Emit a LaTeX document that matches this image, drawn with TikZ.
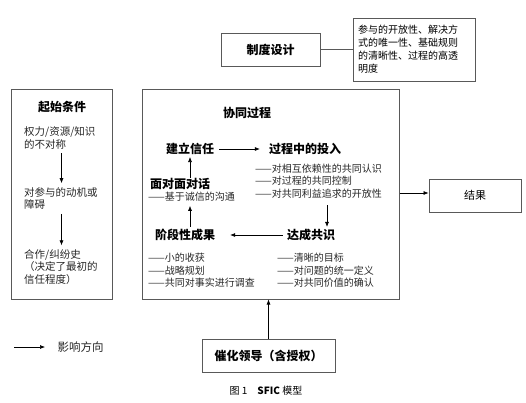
\documentclass[tikz,border=0pt]{standalone}
\usepackage{fontspec}
\setmainfont{Noto Sans CJK SC}
\usetikzlibrary{positioning,arrows.meta}

\tikzset{
  box/.style={draw=black!65, line width=1pt, inner sep=0pt},
  head/.style={font=\fontsize{12}{14}\selectfont\bfseries, inner sep=2pt},
  txt/.style={font=\fontsize{10.5}{12.5}\selectfont, align=left, anchor=west, inner sep=0pt, text=black!85},
  item/.style={font=\fontsize{10}{12.5}\selectfont, align=left, anchor=west, inner sep=0pt, text=black!85},
  arr/.style={-{Latex[length=5pt,width=4pt]}, line width=0.6pt}
}

\begin{document}
\begin{tikzpicture}[x=1pt,y=-1pt]
    \useasboundingbox (0,0) rectangle (526,402);

    % Outer boxes
    \node[box, minimum width=101pt, minimum height=210pt] (start) at (61.5,194) {};
    \node[box, minimum width=257pt, minimum height=210pt] (main) at (270.5,194) {};
    \node[box, minimum width=99pt, minimum height=33pt, font=\fontsize{12}{14}\selectfont\bfseries] (inst) at (270.5,49.5) {制度设计};
    \node[box, minimum width=122pt, minimum height=63pt, text width=112pt, align=left,
          font=\fontsize{10}{13}\selectfont] (instnote) at (414,49.5)
          {参与的开放性、解决方\\式的唯一性、基础规则\\的清晰性、过程的高透\\明度};
    \node[box, minimum width=92pt, minimum height=33pt, font=\fontsize{11}{13}\selectfont] (result) at (475,195.5) {结果};
    \node[box, minimum width=133pt, minimum height=33pt, font=\fontsize{12}{14}\selectfont\bfseries] (lead) at (268.5,355.5) {催化领导（含授权）};

    % Starting conditions
    \node[head] (starttitle) at (62,107) {起始条件};
    \node[txt] (cond1) at (24,138) {权力/资源/知识\\的不对称};
    \node[txt] (cond2) at (24,198.5) {对参与的动机或\\障碍};
    \node[txt] (cond3) at (24,267) {合作/纠纷史\\（决定了最初的\\信任程度）};
    \draw[arr] ([yshift=-4pt]cond1.south -| start) -- ([yshift=4pt]cond2.north -| start);
    \draw[arr] ([yshift=-4pt]cond2.south -| start) -- ([yshift=4pt]cond3.north -| start);

    % Collaborative process
    \node[head] (proctitle) at (247,113) {协同过程};
    \node[head] (trust) at (190,149) {建立信任};
    \node[head] (invest) at (305,149) {过程中的投入};
    \node[item] (investitems) at (255,181) {——对相互依赖性的共同认识\\——对过程的共同控制\\——对共同利益追求的开放性};
    \node[head] (talk) at (180,184) {面对面对话};
    \node[item] (talkitems) at (148,197) {——基于诚信的沟通};
    \node[head] (outcome) at (185,235) {阶段性成果};
    \node[head] (consensus) at (311,235) {达成共识};
    \node[item] (outcomeitems) at (148,270.5) {——小的收获\\——战略规划\\——共同对事实进行调查};
    \node[item] (consensusitems) at (277,270.5) {——清晰的目标\\——对问题的统一定义\\——对共同价值的确认};

    \draw[arr] ([xshift=3pt]trust.east) -- ([xshift=-7pt]invest.west);
    \draw[arr] ([xshift=16pt, yshift=-7pt]consensus.north |- investitems.south) -- ([xshift=16pt]consensus.north);
    \draw[arr] ([xshift=-2pt]consensus.west) -- ([xshift=13pt]outcome.east);
    \draw[arr] (outcome.north -| trust) -- ([yshift=-4pt]talkitems.south -| trust);
    \draw[arr] ([yshift=-2pt]talk.north -| trust) -- (trust.south);

    % Links between boxes
    \draw[draw=black!65, line width=0.8pt] (inst.east) -- (instnote.west);
    \draw[arr] (main.east |- 0,193) -- (result.west |- 0,193);
    \draw[arr] (lead.north) -- (lead.north |- main.south);

    % Legend
    \coordinate (keya) at (14,347);
    \coordinate (keyb) at (45,347);
    \draw[arr] (keya) -- (keyb);
    \node[font=\fontsize{11.5}{13}\selectfont, anchor=west, text=black!85] (keytext) at (54,347) {影响方向};

    % Caption
    \node[font=\fontsize{10}{12}\selectfont] (caption) at (266,391) {图 1\quad \textbf{SFIC} 模型};
\end{tikzpicture}
\end{document}
